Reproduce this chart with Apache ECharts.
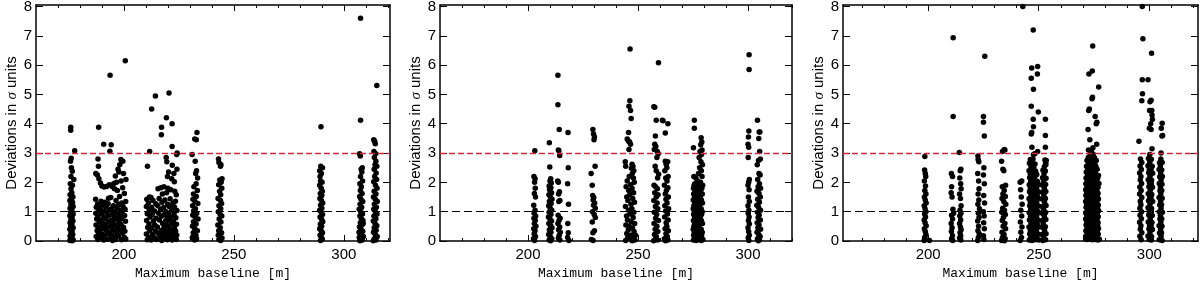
<!DOCTYPE html>
<html>
<head>
<meta charset="utf-8">
<script src="https://cdn.jsdelivr.net/npm/echarts@6/dist/echarts.min.js"></script>
<style>
  html, body { margin: 0; background: #fff; }
  #chart { width: 1200px; height: 281px; }
</style>
</head>
<body>
<div id="chart"></div>
<script>
// tick positions
const xMinorTicks = [170, 180, 190, 200, 210, 220, 230, 240, 250, 260, 270, 280, 290, 300, 310, 320];
const xMajorTicks = [200, 250, 300];
const yTicks = [0, 1, 2, 3, 4, 5, 6, 7, 8];
const limitLines = [1, 3];

// [maximum baseline (m), deviation (sigma)]
const leftPanel = [
  // ~176 m
  [175.8,3.88],[175.8,3.78],[177.6,3.08],[176.0,2.82],[175.7,2.72],[176.1,2.5],[176.5,2.38],[175.9,2.2],[177.2,2.1],
  [175.6,1.95],[176.6,1.9],[175.9,1.78],[176.3,1.65],[175.5,1.58],[176.8,1.5],[176.1,1.45],[175.4,1.38],[176.6,1.32],
  [175.9,1.25],[176.9,1.18],[175.5,1.12],[176.3,1.05],[175.8,0.98],[176.9,0.92],[175.4,0.86],[176.4,0.8],[175.9,0.74],
  [176.8,0.68],[175.5,0.62],[176.3,0.56],[175.8,0.5],[176.9,0.45],[175.4,0.4],[176.4,0.34],[175.9,0.28],[176.7,0.22],
  [175.5,0.17],[176.2,0.12],[175.8,0.07],[176.9,0.04],[175.4,0.02],[176.5,0.01],
  // 187-201 m
  [188.5,3.88],[193.7,5.65],[200.6,6.15],[190.8,3.3],[194.2,3.28],[193.6,3.06],[198.6,2.78],[199.5,2.72],[198.1,2.6],
  [197.3,2.45],[199.8,2.3],[200.9,2.1],[198.7,2.05],[196.6,2.0],[187.2,2.3],[187.9,2.25],[188.6,2.12],[188.4,2.55],
  [188.2,2.8],[189.3,1.98],[190.0,1.88],[191.0,1.84],[192.1,1.86],[193.3,1.92],[194.6,1.86],[195.4,1.96],[196.1,2.22],
  [197.7,2.35],[195.7,1.78],[197.0,1.72],[199.4,1.82],[200.2,1.62],[198.0,1.52],[194.0,1.48],[193.0,1.46],[191.4,1.32],
  [189.6,1.36],[187.1,1.42],[200.8,1.35],[199.0,1.3],[196.4,1.38],
  [188.0,1.26],[190.3,1.22],[192.8,1.27],[195.2,1.2],[197.6,1.24],
  [187.4,1.15],[189.2,1.12],[191.9,1.16],[194.3,1.1],[196.8,1.14],[199.6,1.18],
  [188.6,1.05],[190.7,1.02],[193.4,1.06],[195.9,1.0],[198.3,1.04],[200.5,1.08],
  [187.2,0.95],[189.8,0.92],[192.2,0.97],[194.7,0.9],[197.1,0.94],[199.2,0.96],
  [188.1,0.85],[190.9,0.82],[193.1,0.86],[195.6,0.8],[198.0,0.84],[200.3,0.87],
  [187.6,0.75],[189.4,0.72],[191.7,0.77],[194.2,0.7],[196.5,0.74],[199.0,0.76],
  [188.8,0.65],[190.2,0.62],[192.9,0.66],[195.1,0.6],[197.8,0.64],[200.7,0.67],
  [187.3,0.55],[189.9,0.52],[191.4,0.57],[193.8,0.5],[196.2,0.54],[198.6,0.56],
  [188.3,0.45],[190.6,0.42],[192.5,0.46],[194.9,0.4],[197.3,0.44],[199.8,0.47],
  [187.8,0.35],[189.1,0.32],[191.9,0.37],[193.5,0.3],[195.8,0.34],[198.2,0.36],[200.4,0.33],
  [188.6,0.25],[190.4,0.22],[192.7,0.26],[194.4,0.2],[196.9,0.24],[199.3,0.27],
  [187.4,0.15],[189.6,0.12],[191.2,0.16],[193.9,0.1],[195.4,0.14],[197.6,0.17],[200.1,0.13],
  [188.1,0.05],[190.8,0.03],[192.3,0.06],[194.8,0.02],[196.3,0.05],[198.9,0.04],[200.8,0.07],
  // 210-224 m
  [212.6,4.5],[214.3,4.95],[220.5,5.05],[219.3,4.2],[221.9,4.0],[217.1,3.88],[217.0,3.62],[221.9,3.22],[211.7,3.05],
  [210.7,2.55],[224.2,3.0],[224.0,2.95],[219.2,2.85],[219.5,2.7],[222.0,2.58],[224.1,2.45],[220.3,2.35],[222.7,2.3],
  [219.8,2.2],[221.7,2.12],[222.9,2.02],[218.2,1.85],[216.8,1.82],[215.5,1.78],[220.0,1.8],[221.3,1.75],[223.1,1.7],
  [211.6,1.5],[212.3,1.48],[219.4,1.65],[217.5,1.6],[223.8,1.58],
  [210.4,1.42],[213.2,1.38],[216.0,1.45],[218.6,1.4],[221.0,1.44],[223.4,1.36],
  [211.1,1.3],[214.5,1.27],[217.3,1.32],[219.9,1.25],[222.3,1.3],
  [210.2,1.18],[212.6,1.15],[215.4,1.2],[218.1,1.14],[220.6,1.18],[223.0,1.16],
  [211.5,1.05],[213.9,1.02],[216.7,1.08],[219.2,1.0],[221.7,1.06],[224.1,1.04],
  [210.6,0.93],[212.9,0.9],[215.8,0.95],[218.4,0.9],[220.3,0.94],[222.8,0.92],
  [211.9,0.82],[214.6,0.78],[217.0,0.84],[219.6,0.8],[221.4,0.83],[223.6,0.79],
  [210.3,0.7],[213.4,0.68],[216.1,0.72],[218.9,0.68],[220.9,0.71],[222.5,0.66],
  [211.4,0.58],[214.0,0.55],[217.6,0.6],[219.4,0.56],[221.8,0.6],[223.9,0.57],
  [210.8,0.46],[212.7,0.44],[215.2,0.48],[218.2,0.45],[220.5,0.47],[222.9,0.44],
  [211.7,0.35],[214.3,0.32],[216.9,0.36],[219.0,0.33],[221.2,0.36],[223.5,0.34],
  [210.2,0.24],[213.0,0.22],[215.6,0.26],[217.9,0.22],[220.1,0.25],[222.2,0.23],[224.0,0.2],
  [211.3,0.13],[213.8,0.11],[216.4,0.15],[218.7,0.12],[220.8,0.14],[223.1,0.12],
  [210.6,0.04],[212.4,0.03],[214.9,0.05],[217.2,0.02],[219.7,0.04],[221.9,0.03],[223.8,0.05],
  // ~232 m
  [233.2,3.7],[232.2,3.48],[232.9,3.45],[231.0,2.95],[232.4,2.72],[233.0,2.4],[232.6,2.3],[233.5,2.15],[232.8,1.95],
  [231.8,1.85],[233.4,1.72],[231.6,1.6],[232.9,1.52],[231.4,1.42],[232.3,1.35],[233.6,1.28],[231.2,1.2],[232.5,1.1],
  [231.7,1.02],[233.1,0.95],[231.3,0.88],[232.4,0.82],[233.7,0.75],[231.6,0.66],[232.8,0.58],[231.2,0.5],[232.2,0.42],
  [233.4,0.35],[231.5,0.28],[232.7,0.2],[231.1,0.12],[233.0,0.08],[232.1,0.03],
  // ~244 m
  [243.0,2.8],[243.2,2.68],[244.1,2.6],[243.9,2.55],[244.6,2.12],[243.6,2.08],[244.2,2.0],[243.1,1.92],[244.5,1.8],
  [243.5,1.7],[244.0,1.58],[242.8,1.45],[243.9,1.38],[244.4,1.28],[243.2,1.2],[244.0,1.1],[242.9,1.0],[243.7,0.92],
  [244.5,0.85],[243.3,0.75],[244.1,0.65],[242.7,0.55],[243.8,0.45],[243.1,0.35],[244.4,0.28],[242.9,0.2],[243.6,0.14],
  [244.6,0.1],[243.2,0.05],[244.0,0.02],
  // ~289 m
  [289.6,3.9],[289.5,2.55],[290.3,2.5],[289.0,2.4],[289.8,2.3],[289.2,2.2],[289.4,2.05],[290.1,2.0],[289.0,1.9],
  [289.7,1.8],[290.2,1.7],[289.3,1.62],[290.0,1.55],[289.1,1.45],[289.8,1.38],[290.4,1.3],[289.4,1.22],[290.0,1.12],
  [289.0,1.05],[289.7,0.98],[290.3,0.9],[289.2,0.82],[289.9,0.74],[290.4,0.66],[289.3,0.58],[289.9,0.5],[289.0,0.42],
  [289.7,0.35],[290.3,0.28],[289.2,0.2],[289.8,0.13],[290.2,0.06],[289.4,0.02],
  // ~308 m
  [307.6,7.6],[307.6,4.12],[307.2,2.98],[307.5,2.9],[308.4,2.5],[307.9,2.45],[308.2,2.35],[307.6,2.2],[308.5,2.05],
  [307.3,1.95],[308.0,1.85],[307.5,1.72],[308.3,1.62],[307.2,1.52],[307.8,1.42],[308.6,1.35],[307.4,1.25],[308.1,1.15],
  [307.0,1.08],[307.7,1.0],[308.5,0.92],[307.3,0.85],[308.0,0.76],[308.7,0.7],[307.5,0.62],[308.2,0.55],[307.1,0.48],
  [307.8,0.4],[308.6,0.33],[307.4,0.26],[308.1,0.19],[307.0,0.12],[307.7,0.07],[308.4,0.03],[307.3,0.01],[308.9,0.15],
  [308.8,0.6],[306.9,0.3],
  // ~314 m
  [315.0,5.3],[313.6,3.45],[314.0,3.4],[314.3,3.32],[313.7,3.05],[314.5,2.98],[313.9,2.85],[314.6,2.72],[314.2,2.6],
  [315.0,2.55],[313.8,2.45],[314.7,2.32],[314.0,2.2],[314.9,2.1],[313.6,2.02],[314.4,1.9],[315.1,1.8],[313.8,1.7],
  [314.6,1.6],[313.5,1.5],[314.3,1.42],[315.2,1.35],[313.9,1.25],[314.8,1.15],[313.6,1.08],[314.4,1.0],[315.1,0.92],
  [313.7,0.85],[314.6,0.76],[313.4,0.68],[314.2,0.6],[315.0,0.52],[313.8,0.45],[314.7,0.37],[313.5,0.3],[314.3,0.22],
  [315.2,0.15],[313.9,0.08],[314.6,0.03],[313.4,0.01]
];

const midPanel = [
  // ~203 m
  [203.1,3.08],[202.7,2.2],[203.2,2.12],[203.0,2.0],[203.3,1.8],[202.9,1.62],[203.4,1.5],[202.6,1.22],[203.2,1.05],
  [202.8,0.95],[203.5,0.85],[202.7,0.78],[203.3,0.7],[202.9,0.6],[203.6,0.5],[202.6,0.42],[203.2,0.35],[202.8,0.25],
  [203.4,0.15],[202.5,0.08],[203.0,0.02],
  // ~210 m
  [209.7,3.35],[209.9,2.52],[210.3,2.12],[210.0,2.05],[210.6,1.98],[209.6,1.88],[210.4,1.82],[209.8,1.75],[210.7,1.65],
  [209.5,1.58],[210.2,1.5],[210.9,1.42],[209.7,1.35],[210.5,1.28],[209.4,1.2],[210.1,1.12],[210.8,1.05],[209.6,0.98],
  [210.4,0.9],[209.3,0.82],[210.0,0.75],[210.7,0.68],[209.5,0.6],[210.3,0.52],[210.9,0.45],[209.7,0.38],[210.4,0.3],
  [209.4,0.22],[210.1,0.15],[210.8,0.08],[209.6,0.03],[210.3,0.01],
  // ~214 m
  [213.6,5.65],[213.6,4.65],[214.2,3.8],[213.8,3.1],[214.0,3.08],[214.4,2.92],[213.5,2.05],[213.8,2.0],[214.3,1.68],
  [213.9,1.6],[214.5,1.38],[214.0,1.35],[213.7,0.88],[214.6,0.78],[214.1,0.7],[213.6,0.6],[214.4,0.48],[213.9,0.38],
  [214.7,0.3],[214.2,0.2],[213.8,0.1],[214.5,0.03],
  // ~218 m
  [218.2,3.7],[218.3,2.5],[218.0,1.95],[218.4,1.25],[218.1,0.6],[218.3,0.28],[218.0,0.12],[218.6,0.02],
  // ~229 m
  [229.5,3.8],[229.8,3.65],[230.2,3.55],[230.0,3.45],[230.5,2.55],[228.7,2.3],[229.2,1.9],[229.4,1.55],[229.9,1.48],
  [229.6,1.4],[230.3,1.3],[229.8,1.22],[230.6,1.12],[229.3,1.0],[230.1,0.9],[230.6,0.8],[229.2,0.65],[230.2,0.35],
  [229.5,0.28],[228.8,0.05],[229.6,0.02],
  // ~246 m
  [246.4,6.55],[246.3,4.78],[245.9,4.6],[246.6,4.45],[246.9,4.18],[245.7,3.7],[245.1,3.48],[245.7,3.4],[246.2,3.38],
  [246.6,3.3],[245.9,3.12],[247.3,2.62],[247.7,2.55],[247.0,2.48],[248.1,2.4],[244.2,2.7],[244.4,2.55],[247.4,2.3],
  [246.0,2.2],[247.9,2.15],[245.1,2.05],[248.3,2.0],[246.7,1.92],[244.6,1.85],[247.3,1.8],[245.8,1.72],[248.0,1.65],
  [246.3,1.58],[244.9,1.5],[247.6,1.45],[245.4,1.38],[248.4,1.32],[246.8,1.25],[244.3,1.18],[247.2,1.1],[245.7,1.05],
  [248.1,0.98],[246.4,0.92],[244.8,0.85],[247.8,0.8],[245.2,0.72],[246.9,0.66],[248.5,0.6],[244.5,0.55],[246.0,0.5],
  [247.5,0.44],[245.6,0.38],[248.2,0.32],[244.9,0.26],[246.6,0.2],[247.9,0.14],[245.3,0.1],[246.9,0.06],[248.6,0.03],
  [244.4,0.02],[247.3,0.01],[248.9,0.2],
  // 257-264 m
  [259.3,6.08],[257.2,4.58],[257.6,4.56],[258.3,4.12],[261.1,4.12],[261.4,4.1],[263.6,4.0],[262.4,3.68],[257.9,3.58],
  [257.6,3.3],[258.1,3.22],[257.4,3.12],[258.8,3.05],[259.2,2.98],[258.6,2.85],[257.8,2.55],[258.3,2.4],[259.4,2.28],
  [258.9,2.15],[262.4,2.72],[262.8,2.62],[263.5,2.7],[263.1,2.5],[262.2,2.4],[263.7,2.2],[262.6,2.15],[263.2,2.05],
  [257.3,1.9],[258.0,1.85],[258.8,1.78],[262.0,1.9],[263.6,1.82],[262.9,1.72],[257.6,1.65],[259.1,1.58],[258.3,1.5],
  [262.4,1.6],[263.8,1.5],[262.7,1.42],[257.2,1.38],[258.7,1.3],[263.2,1.3],[262.2,1.2],[257.9,1.18],[259.0,1.1],
  [263.9,1.1],[262.6,1.02],[257.4,0.98],[258.5,0.9],[263.4,0.92],[262.1,0.82],[258.0,0.78],[259.3,0.7],[263.7,0.72],
  [262.8,0.62],[257.3,0.6],[258.6,0.5],[263.1,0.5],[262.3,0.42],[257.8,0.4],[259.0,0.32],[263.8,0.35],[262.7,0.25],
  [257.5,0.22],[258.3,0.15],[263.3,0.15],[262.0,0.08],[257.9,0.05],[258.9,0.03],[263.6,0.03],[262.5,0.01],[257.1,0.01],
  // ~277 m
  [275.6,4.12],[275.6,3.85],[278.7,3.52],[279.0,3.38],[278.5,3.28],[275.2,3.18],[279.1,3.1],[278.2,3.05],[278.9,2.95],
  [277.8,2.85],[278.6,2.7],[279.3,2.6],[278.0,2.5],[278.8,2.4],[277.5,2.3],[275.4,2.2],[276.3,2.15],[279.1,2.2],
  [277.0,2.05],[278.4,2.0],[275.8,1.95],[279.4,1.9],
  [275.5,1.9],[276.9,1.88],[278.2,1.92],
  [275.2,1.8],[276.4,1.78],[277.6,1.82],[279.0,1.8],
  [275.9,1.7],[277.1,1.68],[278.5,1.72],
  [275.3,1.6],[276.6,1.58],[277.8,1.62],[279.2,1.6],
  [275.7,1.5],[277.0,1.48],[278.3,1.52],
  [275.1,1.4],[276.3,1.38],[277.5,1.42],[278.8,1.4],
  [275.8,1.3],[276.9,1.28],[278.1,1.32],[279.3,1.3],
  [275.4,1.2],[276.6,1.18],[277.9,1.22],
  [275.1,1.1],[276.2,1.08],[277.4,1.12],[278.7,1.1],
  [275.6,1.0],[276.8,0.98],[278.0,1.02],[279.2,1.0],
  [275.3,0.9],[276.5,0.88],[277.7,0.92],[278.9,0.9],
  [275.8,0.8],[277.0,0.78],[278.3,0.82],
  [275.2,0.7],[276.4,0.68],[277.6,0.72],[278.8,0.7],
  [275.7,0.6],[276.9,0.58],[278.1,0.62],[279.3,0.6],
  [275.4,0.5],[276.6,0.48],[277.8,0.52],
  [275.1,0.4],[276.2,0.38],[277.5,0.42],[278.7,0.4],
  [275.6,0.3],[276.8,0.28],[278.0,0.32],[279.2,0.3],
  [275.3,0.2],[276.5,0.18],[277.7,0.22],[278.9,0.2],
  [275.8,0.1],[277.0,0.09],[278.3,0.11],
  [275.2,0.03],[276.4,0.02],[277.6,0.04],[278.8,0.02],[279.5,0.05],
  // ~300 m
  [300.5,6.35],[300.5,5.85],[300.4,3.75],[300.2,3.55],[300.0,3.3],[300.3,3.2],[300.1,2.85],[300.6,2.1],[300.3,2.0],
  [300.0,1.9],[300.5,1.75],[300.2,1.5],[300.6,1.35],[300.0,1.2],[300.4,1.05],[300.1,0.95],[300.5,0.82],[300.2,0.7],
  [300.6,0.58],[300.0,0.45],[300.3,0.32],[300.6,0.2],[300.1,0.1],[300.4,0.02],
  // ~305 m
  [304.3,4.12],[305.1,3.72],[305.4,3.72],[304.9,3.5],[305.3,3.05],[305.6,2.8],[304.8,2.75],[304.2,2.6],[305.0,2.3],
  [305.5,2.25],[304.4,2.1],[305.2,1.95],[304.6,1.85],[305.7,1.8],[304.1,1.7],[305.0,1.62],[305.6,1.5],[304.4,1.42],
  [305.2,1.32],[304.0,1.22],[304.8,1.15],[305.7,1.05],[304.3,0.98],[305.1,0.88],[304.6,0.8],[305.6,0.72],[304.2,0.62],
  [305.0,0.55],[304.5,0.45],[305.7,0.4],[304.1,0.3],[304.9,0.22],[305.5,0.15],[304.3,0.08],[305.2,0.03],[304.7,0.01]
];

const rightPanel = [
  // ~198 m
  [198.5,2.88],[198.4,2.42],[198.7,2.3],[198.9,2.2],[198.3,2.05],[198.8,1.88],[198.5,1.72],[199.0,1.6],[198.3,1.5],
  [198.7,1.4],[199.1,1.3],[198.2,1.2],[198.6,1.1],[199.0,1.0],[198.4,0.92],[198.8,0.82],[198.2,0.72],[198.6,0.62],
  [199.1,0.52],[198.3,0.42],[198.7,0.32],[199.0,0.22],[198.4,0.12],[198.8,0.05],[198.2,0.02],[200.6,0.02],
  // ~211 m
  [211.3,6.93],[211.3,4.25],[210.5,2.3],[211.0,2.2],[210.6,1.85],[210.4,1.65],[210.8,1.5],[211.2,1.08],[211.5,0.95],
  [210.6,0.88],[211.0,0.75],[210.4,0.6],[210.8,0.45],[210.5,0.32],[211.0,0.18],[210.6,0.08],[211.1,0.02],
  // ~214.5 m
  [214.1,3.02],[214.8,2.45],[214.5,2.4],[214.3,2.15],[214.7,1.95],[214.9,1.78],[214.2,1.6],[214.6,1.45],[214.9,1.2],
  [214.4,1.05],[214.8,0.95],[214.3,0.85],[214.7,0.72],[214.2,0.6],[214.6,0.48],[214.9,0.38],[214.4,0.28],[214.7,0.18],
  [214.2,0.1],[214.8,0.03],
  // 222-226 m
  [225.6,6.3],[225.0,4.25],[225.0,4.05],[225.4,3.58],[222.5,2.9],[222.6,2.78],[222.9,2.7],[225.2,2.5],[225.0,2.25],
  [222.4,2.3],[222.8,2.05],[225.4,1.95],[223.0,1.78],[222.6,1.6],[225.1,1.55],[222.9,1.4],[225.5,1.3],[222.5,1.25],
  [223.2,1.1],[225.0,1.0],[222.7,0.95],[225.3,0.85],[223.0,0.8],[222.4,0.68],[225.1,0.62],[222.8,0.5],[225.4,0.42],
  [222.5,0.35],[223.1,0.25],[225.0,0.18],[222.7,0.12],[225.2,0.05],[222.4,0.02],
  // ~234 m
  [234.4,3.12],[234.7,3.1],[233.6,3.05],[233.2,2.72],[233.8,2.45],[234.2,2.4],[235.0,1.9],[233.5,1.85],[234.4,1.72],
  [233.8,1.6],[234.9,1.52],[233.4,1.45],[234.2,1.35],[235.1,1.25],[233.7,1.12],[234.5,1.05],[233.3,0.98],[234.9,0.9],
  [234.0,0.8],[233.5,0.7],[234.7,0.6],[233.9,0.5],[235.0,0.42],[233.4,0.3],[234.3,0.22],[233.6,0.12],[234.8,0.08],
  [233.2,0.02],[234.5,0.01],
  // ~242 m
  [242.8,8.0],[241.6,2.0],[242.3,2.05],[241.8,1.75],[242.1,1.5],[242.5,1.25],[241.9,1.05],[242.3,0.85],[241.7,0.65],
  [242.4,0.48],[241.9,0.3],[242.2,0.12],[241.6,0.02],
  // 245-254 m
  [247.5,7.2],[246.8,5.9],[249.5,5.95],[249.4,5.7],[246.6,5.55],[247.6,5.18],[246.6,4.6],[249.8,4.4],[247.5,4.15],
  [253.0,4.15],[247.6,3.9],[246.8,3.7],[246.6,3.65],[253.0,3.6],[246.9,3.2],[249.5,3.05],[253.0,3.2],[248.2,2.98],
  [247.6,2.95],[253.4,2.75],[253.1,2.65],
  [246.2,2.78],[247.4,2.8],[252.8,2.76],
  [245.8,2.65],[247.0,2.66],[248.3,2.63],[253.2,2.6],
  [246.5,2.52],[247.8,2.5],[252.5,2.53],
  [245.6,2.4],[246.9,2.42],[248.6,2.38],[251.9,2.41],[253.0,2.39],
  [246.2,2.28],[247.5,2.3],[249.1,2.27],[252.4,2.29],
  [245.9,2.16],[247.1,2.17],[248.2,2.15],[251.7,2.16],[253.3,2.14],
  [246.4,2.04],[247.7,2.05],[249.4,2.03],[252.2,2.04],
  [245.7,1.92],[246.9,1.93],[248.4,1.91],[250.1,1.92],[251.8,1.9],[253.1,1.93],
  [246.2,1.8],[247.5,1.81],[249.0,1.79],[252.5,1.8],
  [245.8,1.68],[247.0,1.69],[248.3,1.67],[249.8,1.68],[251.6,1.66],[253.2,1.69],
  [246.5,1.56],[247.8,1.57],[249.3,1.55],[252.3,1.56],
  [245.6,1.44],[246.9,1.45],[248.6,1.43],[250.3,1.44],[251.9,1.42],[253.0,1.45],
  [246.2,1.32],[247.4,1.33],[249.0,1.31],[252.6,1.32],
  [245.9,1.2],[247.2,1.21],[248.4,1.19],[249.7,1.2],[251.5,1.18],[253.3,1.21],
  [246.4,1.08],[247.7,1.09],[249.2,1.07],[252.2,1.08],
  [245.7,0.96],[247.0,0.97],[248.5,0.95],[250.2,0.96],[251.8,0.94],[253.1,0.97],
  [246.3,0.84],[247.5,0.85],[249.0,0.83],[252.5,0.84],
  [245.8,0.72],[247.1,0.73],[248.3,0.71],[249.6,0.72],[251.6,0.7],[253.2,0.73],
  [246.5,0.6],[247.8,0.61],[249.3,0.59],[252.0,0.6],
  [245.6,0.48],[246.9,0.49],[248.6,0.47],[250.1,0.48],[251.9,0.46],[253.0,0.49],
  [246.2,0.36],[247.4,0.37],[248.9,0.35],[252.6,0.36],
  [245.9,0.24],[247.2,0.25],[248.4,0.23],[249.8,0.24],[251.5,0.22],[253.3,0.25],
  [246.4,0.12],[247.7,0.13],[249.2,0.11],[252.2,0.12],
  [245.7,0.03],[247.0,0.02],[248.5,0.04],[250.0,0.03],[251.8,0.02],[253.1,0.04],
  // 271-278 m
  [274.4,6.65],[274.2,5.8],[272.7,5.7],[277.1,5.25],[274.3,4.9],[274.1,4.85],[272.9,4.5],[272.6,4.45],[275.5,4.25],
  [276.3,4.05],[276.0,4.0],[272.3,3.8],[276.2,3.3],[273.1,3.45],[274.5,3.18],[272.5,3.1],[273.8,3.05],
  [273.3,2.95],[274.6,2.96],
  [272.4,2.85],[273.9,2.86],[275.2,2.84],
  [271.8,2.75],[273.1,2.76],[274.5,2.74],[276.0,2.75],
  [272.5,2.65],[273.8,2.66],[275.3,2.64],
  [271.6,2.55],[272.9,2.56],[274.2,2.54],[275.8,2.55],
  [272.2,2.45],[273.5,2.46],[274.9,2.44],[276.4,2.45],
  [271.5,2.35],[272.8,2.36],[274.1,2.34],[275.5,2.35],
  [272.0,2.25],[273.3,2.26],[274.7,2.24],[276.1,2.25],[277.0,2.23],
  [271.4,2.15],[272.6,2.16],[273.9,2.14],[275.2,2.15],[276.6,2.13],
  [271.9,2.05],[273.2,2.06],[274.5,2.04],[275.8,2.05],
  [271.3,1.95],[272.5,1.96],[273.8,1.94],[275.1,1.95],[276.4,1.93],[277.2,1.96],
  [271.8,1.85],[273.0,1.86],[274.3,1.84],[275.6,1.85],[276.8,1.83],
  [271.2,1.75],[272.4,1.76],[273.7,1.74],[275.0,1.75],[276.2,1.73],
  [271.7,1.65],[272.9,1.66],[274.2,1.64],[275.5,1.65],[276.8,1.63],
  [271.3,1.55],[272.6,1.56],[273.9,1.54],[275.2,1.55],[276.5,1.53],
  [271.8,1.45],[273.1,1.46],[274.4,1.44],[275.7,1.45],[277.0,1.43],
  [271.2,1.35],[272.5,1.36],[273.8,1.34],[275.1,1.35],[276.3,1.33],
  [271.7,1.25],[273.0,1.26],[274.3,1.24],[275.6,1.25],[276.9,1.23],
  [271.4,1.15],[272.7,1.16],[274.0,1.14],[275.3,1.15],[276.6,1.13],
  [271.9,1.05],[273.2,1.06],[274.5,1.04],[275.8,1.05],[277.1,1.03],
  [271.3,0.95],[272.6,0.96],[273.9,0.94],[275.2,0.95],[276.4,0.93],
  [271.8,0.85],[273.1,0.86],[274.4,0.84],[275.7,0.85],[276.9,0.83],
  [271.2,0.75],[272.5,0.76],[273.8,0.74],[275.1,0.75],[276.3,0.73],
  [271.7,0.65],[273.0,0.66],[274.3,0.64],[275.6,0.65],[276.8,0.63],
  [271.4,0.55],[272.7,0.56],[274.0,0.54],[275.3,0.55],[276.6,0.53],
  [271.9,0.45],[273.2,0.46],[274.5,0.44],[275.8,0.45],[277.0,0.43],
  [271.3,0.35],[272.6,0.36],[273.9,0.34],[275.2,0.35],[276.4,0.33],
  [271.8,0.25],[273.1,0.26],[274.4,0.24],[275.7,0.25],[276.9,0.23],
  [271.2,0.15],[272.5,0.16],[273.8,0.14],[275.1,0.15],[276.3,0.13],
  [271.7,0.05],[273.0,0.06],[274.3,0.04],[275.6,0.05],[276.8,0.03],[277.4,0.06],
  // 295-306 m
  [296.8,8.0],[297.1,6.9],[301.0,6.4],[296.8,5.5],[299.4,5.5],[296.9,5.02],[296.6,4.78],[300.8,4.8],[300.3,4.75],
  [300.1,4.45],[301.1,4.45],[301.2,4.3],[301.4,4.15],[300.6,4.0],[305.8,4.02],[300.0,3.85],[300.8,3.8],[305.4,3.85],
  [306.0,3.6],[305.7,3.58],[295.3,3.4],[301.2,3.15],[300.2,2.95],[305.3,3.0],
  [296.0,2.8],[299.6,2.81],[300.9,2.79],[305.2,2.8],
  [296.6,2.68],[300.2,2.69],[304.6,2.67],[305.8,2.68],
  [295.8,2.56],[299.4,2.57],[301.3,2.55],[305.0,2.56],
  [296.4,2.44],[300.0,2.45],[300.8,2.43],[304.4,2.44],[305.6,2.42],
  [295.6,2.32],[299.7,2.33],[301.5,2.31],[305.1,2.32],
  [296.2,2.2],[300.3,2.21],[304.7,2.19],[305.9,2.2],
  [295.9,2.08],[299.5,2.09],[301.0,2.07],[305.3,2.08],
  [296.5,1.96],[300.1,1.97],[300.9,1.95],[304.5,1.96],[305.7,1.94],
  [295.7,1.84],[299.8,1.85],[301.4,1.83],[305.0,1.84],
  [296.3,1.72],[300.4,1.73],[304.8,1.71],[305.6,1.72],
  [295.6,1.6],[299.5,1.61],[301.1,1.59],[305.2,1.6],
  [296.6,1.48],[300.2,1.49],[300.8,1.47],[304.4,1.48],[305.8,1.46],
  [295.9,1.36],[299.6,1.37],[301.5,1.35],[305.1,1.36],
  [296.2,1.24],[300.3,1.25],[304.7,1.23],[305.5,1.24],
  [295.7,1.12],[299.4,1.13],[301.0,1.11],[305.3,1.12],
  [296.5,1.0],[300.0,1.01],[300.9,0.99],[304.5,1.0],[305.9,0.98],
  [295.8,0.88],[299.7,0.89],[301.3,0.87],[305.0,0.88],
  [296.4,0.76],[300.4,0.77],[304.8,0.75],[305.6,0.76],
  [295.6,0.64],[299.5,0.65],[301.2,0.63],[305.2,0.64],
  [296.2,0.52],[300.1,0.53],[300.8,0.51],[304.4,0.52],[305.7,0.5],
  [295.9,0.4],[299.8,0.41],[301.4,0.39],[305.1,0.4],
  [296.6,0.28],[300.3,0.29],[304.6,0.27],[305.5,0.28],
  [295.7,0.16],[299.4,0.17],[301.0,0.15],[305.3,0.16],
  [296.3,0.04],[300.0,0.05],[300.9,0.03],[304.5,0.04],[305.8,0.02]
];

const panels = [
  { data: leftPanel, left: 36, width: 354, min: 160, max: 321 },
  { data: midPanel, left: 440, width: 352, min: 160, max: 320 },
  { data: rightPanel, left: 843, width: 355, min: 161.5, max: 322 }
];

const labelFont = "'Liberation Sans', sans-serif";
const boxLine = { lineStyle: { color: '#000', width: 1.5 } };

const grid = [], xAxis = [], yAxis = [], series = [];

panels.forEach((p, i) => {
  grid.push({ left: p.left, width: p.width, top: 5, height: 236, outerBoundsMode: 'none', containLabel: false });

  const xBase = { gridIndex: i, type: 'value', min: p.min, max: p.max, splitLine: { show: false } };
  const minorTick = { inside: true, length: 3, customValues: xMinorTicks, lineStyle: { color: '#000' } };
  const majorTick = { inside: true, length: 6, customValues: xMajorTicks, lineStyle: { color: '#000' } };
  xAxis.push(
    {
      ...xBase, position: 'bottom', axisLine: boxLine, axisTick: minorTick,
      axisLabel: { customValues: xMajorTicks, color: '#000', fontSize: 15, fontFamily: labelFont, margin: 6 },
      name: 'Maximum baseline [m]', nameLocation: 'middle', nameGap: 22,
      nameTextStyle: { color: '#000', fontSize: 13, fontFamily: "'Liberation Mono', monospace" }
    },
    { ...xBase, position: 'bottom', axisLine: { show: false }, axisTick: majorTick, axisLabel: { show: false } },
    { ...xBase, position: 'top', axisLine: boxLine, axisTick: minorTick, axisLabel: { show: false } },
    { ...xBase, position: 'top', axisLine: { show: false }, axisTick: majorTick, axisLabel: { show: false } }
  );

  const yBase = { gridIndex: i, type: 'value', min: 0, max: 8.05, splitLine: { show: false } };
  const yTick = { inside: true, length: 7, customValues: yTicks, lineStyle: { color: '#000' } };
  yAxis.push(
    {
      ...yBase, position: 'left', axisLine: boxLine, axisTick: yTick,
      axisLabel: { customValues: yTicks, color: '#000', fontSize: 15, fontFamily: labelFont, margin: 4 },
      name: 'Deviations in {s|σ} units', nameLocation: 'middle', nameRotate: 90, nameGap: 11,
      nameTextStyle: {
        color: '#000', fontSize: 15, fontFamily: labelFont,
        rich: { s: { fontStyle: 'italic', fontSize: 15, fontFamily: "'Liberation Serif', serif", color: '#000' } }
      }
    },
    { ...yBase, position: 'right', axisLine: boxLine, axisTick: yTick, axisLabel: { show: false } }
  );

  series.push({
    type: 'scatter',
    xAxisIndex: 4 * i,
    yAxisIndex: 2 * i,
    data: p.data,
    symbol: 'circle',
    symbolSize: 5.5,
    itemStyle: { color: '#000', opacity: 1, borderWidth: 0 },
    silent: true,
    markLine: {
      silent: true,
      symbol: 'none',
      label: { show: false },
      lineStyle: { color: '#000', type: [8, 4], width: 1, opacity: 1 },
      data: [
        { yAxis: limitLines[1], lineStyle: { color: '#d02a3a', type: [6, 3], width: 1.3, opacity: 1 } },
        { yAxis: limitLines[0] }
      ]
    }
  });
});

const chart = echarts.init(document.getElementById('chart'));
chart.setOption({
  animation: false,
  backgroundColor: '#fff',
  grid, xAxis, yAxis, series
});
</script>
</body>
</html>
